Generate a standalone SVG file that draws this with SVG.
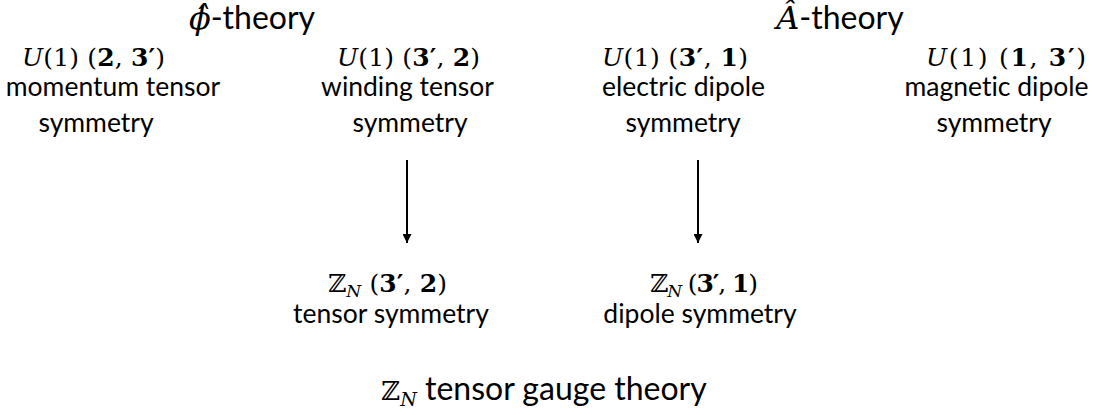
<svg xmlns="http://www.w3.org/2000/svg" width="1099" height="415" viewBox="0 0 1099 415">
<style>
.t{font-family:Lato,"Open Sans",sans-serif;font-size:32px;fill:#000;text-anchor:middle;font-variant-ligatures:none}
.b{font-family:Lato,"Open Sans",sans-serif;font-size:26.5px;fill:#000;text-anchor:middle;font-variant-ligatures:none}
.m{font-family:"DejaVu Serif","Liberation Serif",serif;font-size:25px;fill:#000;text-anchor:middle}
.i{font-style:italic}
.bd{font-weight:bold}
.edge{stroke:#000;stroke-width:2;fill:none}
</style>
<defs>
<marker id="ah" markerWidth="10" markerHeight="9" refX="9" refY="4.5" orient="auto" markerUnits="userSpaceOnUse">
<polygon points="0,0 9,4.5 0,9" fill="#000"/>
</marker>
</defs>
<rect width="1099" height="415" fill="#fff"/>
<g id="title-phi">
<text class="t" x="252" y="29"><tspan class="i" font-family="DejaVu Serif,serif">ϕ̂</tspan>-theory</text>
</g>
<g id="title-A">
<text class="t" x="840" y="29"><tspan class="i" font-family="DejaVu Serif,serif">Â</tspan>-theory</text>
</g>
<g id="momentum">
<text class="m" x="93.5" y="66" textLength="143" lengthAdjust="spacing"><tspan class="i">U</tspan>(1) (<tspan class="bd">2</tspan>, <tspan class="bd">3′</tspan>)</text>
<text class="b" x="113" y="96">momentum tensor</text>
<text class="b" x="96" y="132">symmetry</text>
</g>
<g id="winding">
<text class="m" x="408.5" y="66" textLength="143" lengthAdjust="spacing"><tspan class="i">U</tspan>(1) (<tspan class="bd">3′</tspan>, <tspan class="bd">2</tspan>)</text>
<text class="b" x="407.5" y="96">winding tensor</text>
<text class="b" x="410" y="132">symmetry</text>
</g>
<g id="electric">
<text class="m" x="675" y="66" textLength="146" lengthAdjust="spacing"><tspan class="i">U</tspan>(1) (<tspan class="bd">3′</tspan>, <tspan class="bd">1</tspan>)</text>
<text class="b" x="683.5" y="96">electric dipole</text>
<text class="b" x="683" y="132">symmetry</text>
</g>
<g id="magnetic">
<text class="m" x="1006" y="66" textLength="160" lengthAdjust="spacing"><tspan class="i">U</tspan>(1) (<tspan class="bd">1</tspan>, <tspan class="bd">3′</tspan>)</text>
<text class="b" x="996.5" y="96">magnetic dipole</text>
<text class="b" x="994" y="132">symmetry</text>
</g>
<g id="zn-tensor">
<text class="m" x="387.5" y="292" textLength="119" lengthAdjust="spacing">ℤ<tspan class="i" font-size="17" dy="5">N</tspan><tspan dy="-5"> (</tspan><tspan class="bd">3′</tspan>, <tspan class="bd">2</tspan>)</text>
<text class="b" x="391" y="323">tensor symmetry</text>
</g>
<g id="zn-dipole">
<text class="m" x="704" y="292" textLength="108" lengthAdjust="spacing">ℤ<tspan class="i" font-size="17" dy="5">N</tspan><tspan dy="-5"> (</tspan><tspan class="bd">3′</tspan>, <tspan class="bd">1</tspan>)</text>
<text class="b" x="700" y="323">dipole symmetry</text>
</g>
<g id="zn-gauge">
<text class="t" x="544" y="400"><tspan font-family="DejaVu Serif,serif" font-size="26">ℤ</tspan><tspan class="i" font-family="DejaVu Serif,serif" font-size="19" dy="6">N</tspan><tspan dy="-6"> tensor gauge theory</tspan></text>
</g>
<g id="connectors">
<line class="edge" x1="407" y1="160" x2="407" y2="243" marker-end="url(#ah)"/>
<line class="edge" x1="698" y1="160" x2="698" y2="243" marker-end="url(#ah)"/>
</g>
</svg>
